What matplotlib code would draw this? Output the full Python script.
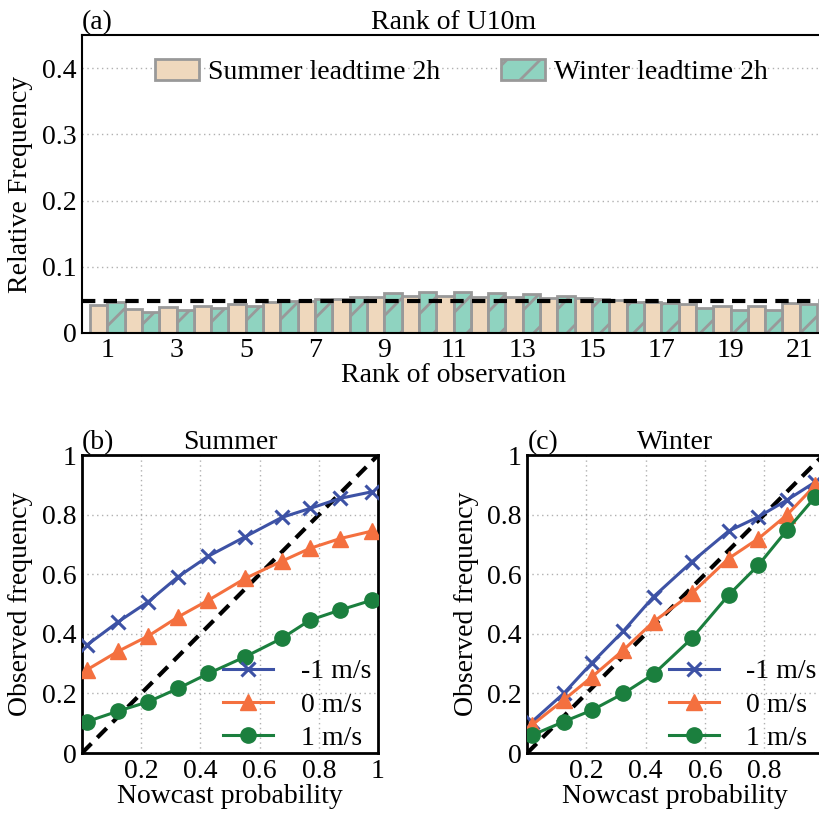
import matplotlib
matplotlib.use("Agg")
import matplotlib.pyplot as plt
import numpy as np
from matplotlib.ticker import FuncFormatter

plt.rcParams['font.family'] = ['Liberation Serif', 'DejaVu Serif']
plt.rcParams['hatch.linewidth'] = 2.0
plt.rcParams['hatch.color'] = '#999999'

# ---- data: rank histogram ----
ranks = list(range(1, 22))
summer_freq = [0.0425, 0.036, 0.039, 0.041, 0.0435, 0.047, 0.048, 0.051, 0.054, 0.056,
               0.056, 0.055, 0.054, 0.053, 0.053, 0.050, 0.046, 0.0435, 0.040, 0.041, 0.045]
winter_freq = [0.046, 0.032, 0.034, 0.037, 0.041, 0.048, 0.051, 0.054, 0.060, 0.0625,
               0.0625, 0.061, 0.059, 0.056, 0.051, 0.046, 0.045, 0.038, 0.035, 0.034, 0.044]
rank_ticks = [1, 3, 5, 7, 9, 11, 13, 15, 17, 19, 21]

# ---- data: reliability ----
prob_summer = [0.016, 0.123, 0.224, 0.325, 0.427, 0.551, 0.675, 0.770, 0.872, 0.979]
summer_m1 = [0.362, 0.441, 0.508, 0.592, 0.661, 0.726, 0.791, 0.821, 0.855, 0.877]
summer_0 = [0.279, 0.342, 0.393, 0.457, 0.513, 0.586, 0.644, 0.687, 0.720, 0.745]
summer_p1 = [0.105, 0.141, 0.172, 0.217, 0.267, 0.323, 0.385, 0.446, 0.480, 0.513]

prob_winter = [0.016, 0.123, 0.219, 0.325, 0.427, 0.556, 0.680, 0.781, 0.877, 0.973]
winter_m1 = [0.105, 0.200, 0.303, 0.410, 0.525, 0.642, 0.745, 0.793, 0.849, 0.910]
winter_0 = [0.094, 0.178, 0.256, 0.346, 0.441, 0.536, 0.653, 0.720, 0.799, 0.899]
winter_p1 = [0.060, 0.105, 0.144, 0.200, 0.265, 0.385, 0.530, 0.631, 0.748, 0.860]

series_labels = ['-1 m/s', '0 m/s', '1 m/s']
series_colors = ['#3d52a5', '#f4703f', '#1b7f3e']
series_markers = ['x', '^', 'o']

FS = 20

fig = plt.figure(figsize=(8.2, 8.16), dpi=100)

# ---- panel (a) ----
axa = fig.add_axes([0.1, 0.592, 0.907, 0.365])
r = np.array(ranks)
axa.bar(r - 0.25, summer_freq, width=0.5, color='#efd8bd', edgecolor='#999999',
        linewidth=2, label='Summer leadtime 2h', zorder=2)
axa.bar(r + 0.25, winter_freq, width=0.5, color='#8fd3c0', edgecolor='#999999',
        linewidth=2, hatch='/', label='Winter leadtime 2h', zorder=2)
axa.axhline(1 / 21, color='black', lw=3, ls=(0, (3.2, 2)), zorder=3)
axa.set_xlim(0.27, 21.75)
axa.set_ylim(0, 0.45)
axa.set_yticks([0, 0.1, 0.2, 0.3, 0.4])
axa.yaxis.set_major_formatter(FuncFormatter(lambda v, p: '%g' % v))
axa.set_xticks(rank_ticks)
axa.grid(axis='y', ls=(0, (1, 2.5)), color='#b0b0b0', lw=1, zorder=0)
axa.tick_params(length=0, labelsize=FS, pad=4)
axa.set_ylabel('Relative Frequency', fontsize=FS, labelpad=6)
axa.set_xlabel('Rank of observation', fontsize=FS, labelpad=0)
axa.set_title('(a)', loc='left', fontsize=FS, pad=4)
axa.set_title('Rank of U10m', fontsize=FS, pad=4)
for s in axa.spines.values():
    s.set_linewidth(1.5)
axa.legend(loc='upper center', bbox_to_anchor=(0.51, 1.005), ncol=2, frameon=False,
           fontsize=FS, handlelength=1.6, handleheight=0.8, columnspacing=2.2,
           handletextpad=0.3)


def reliability(ax, x, ys, title, tag, xticks):
    ax.plot([0, 1], [0, 1], color='black', lw=3, ls=(0, (3.2, 2)), zorder=2)
    for y, lab, c, m in zip(ys, series_labels, series_colors, series_markers):
        ms = 10 if m == 'x' else 11
        ax.plot(x, y, color=c, marker=m, ms=ms, mew=2.2 if m == 'x' else 1,
                lw=2.2, label=lab, zorder=3)
    ax.set_xlim(0, 1)
    ax.set_ylim(0, 1)
    ax.set_xticks(xticks)
    ax.set_yticks([0, 0.2, 0.4, 0.6, 0.8, 1.0])
    fmt = FuncFormatter(lambda v, p: '%g' % v)
    ax.xaxis.set_major_formatter(fmt)
    ax.yaxis.set_major_formatter(fmt)
    ax.grid(True, ls=(0, (1, 2.5)), color='#b0b0b0', lw=1, zorder=0)
    ax.tick_params(length=0, labelsize=FS, pad=4)
    ax.set_xlabel('Nowcast probability', fontsize=FS, labelpad=0)
    ax.set_ylabel('Observed frequency', fontsize=FS, labelpad=6)
    ax.set_title(tag, loc='left', fontsize=FS, pad=4)
    ax.set_title(title, fontsize=FS, pad=4)
    for s in ax.spines.values():
        s.set_linewidth(2)
    ax.legend(loc='lower right', bbox_to_anchor=(1.02, -0.035), frameon=False,
              fontsize=FS, handlelength=1.8, handletextpad=1.0, labelspacing=0.28,
              borderaxespad=0.05)


axb = fig.add_axes([0.1, 0.0772, 0.361, 0.365])
reliability(axb, prob_summer, [summer_m1, summer_0, summer_p1], 'Summer', '(b)',
            [0.2, 0.4, 0.6, 0.8, 1.0])

axc = fig.add_axes([0.643, 0.0772, 0.361, 0.365])
reliability(axc, prob_winter, [winter_m1, winter_0, winter_p1], 'Winter', '(c)',
            [0.2, 0.4, 0.6, 0.8, 1.0])
axc.xaxis.get_major_ticks()[-1].label1.set_visible(False)

fig.savefig('out.png', dpi=100)
